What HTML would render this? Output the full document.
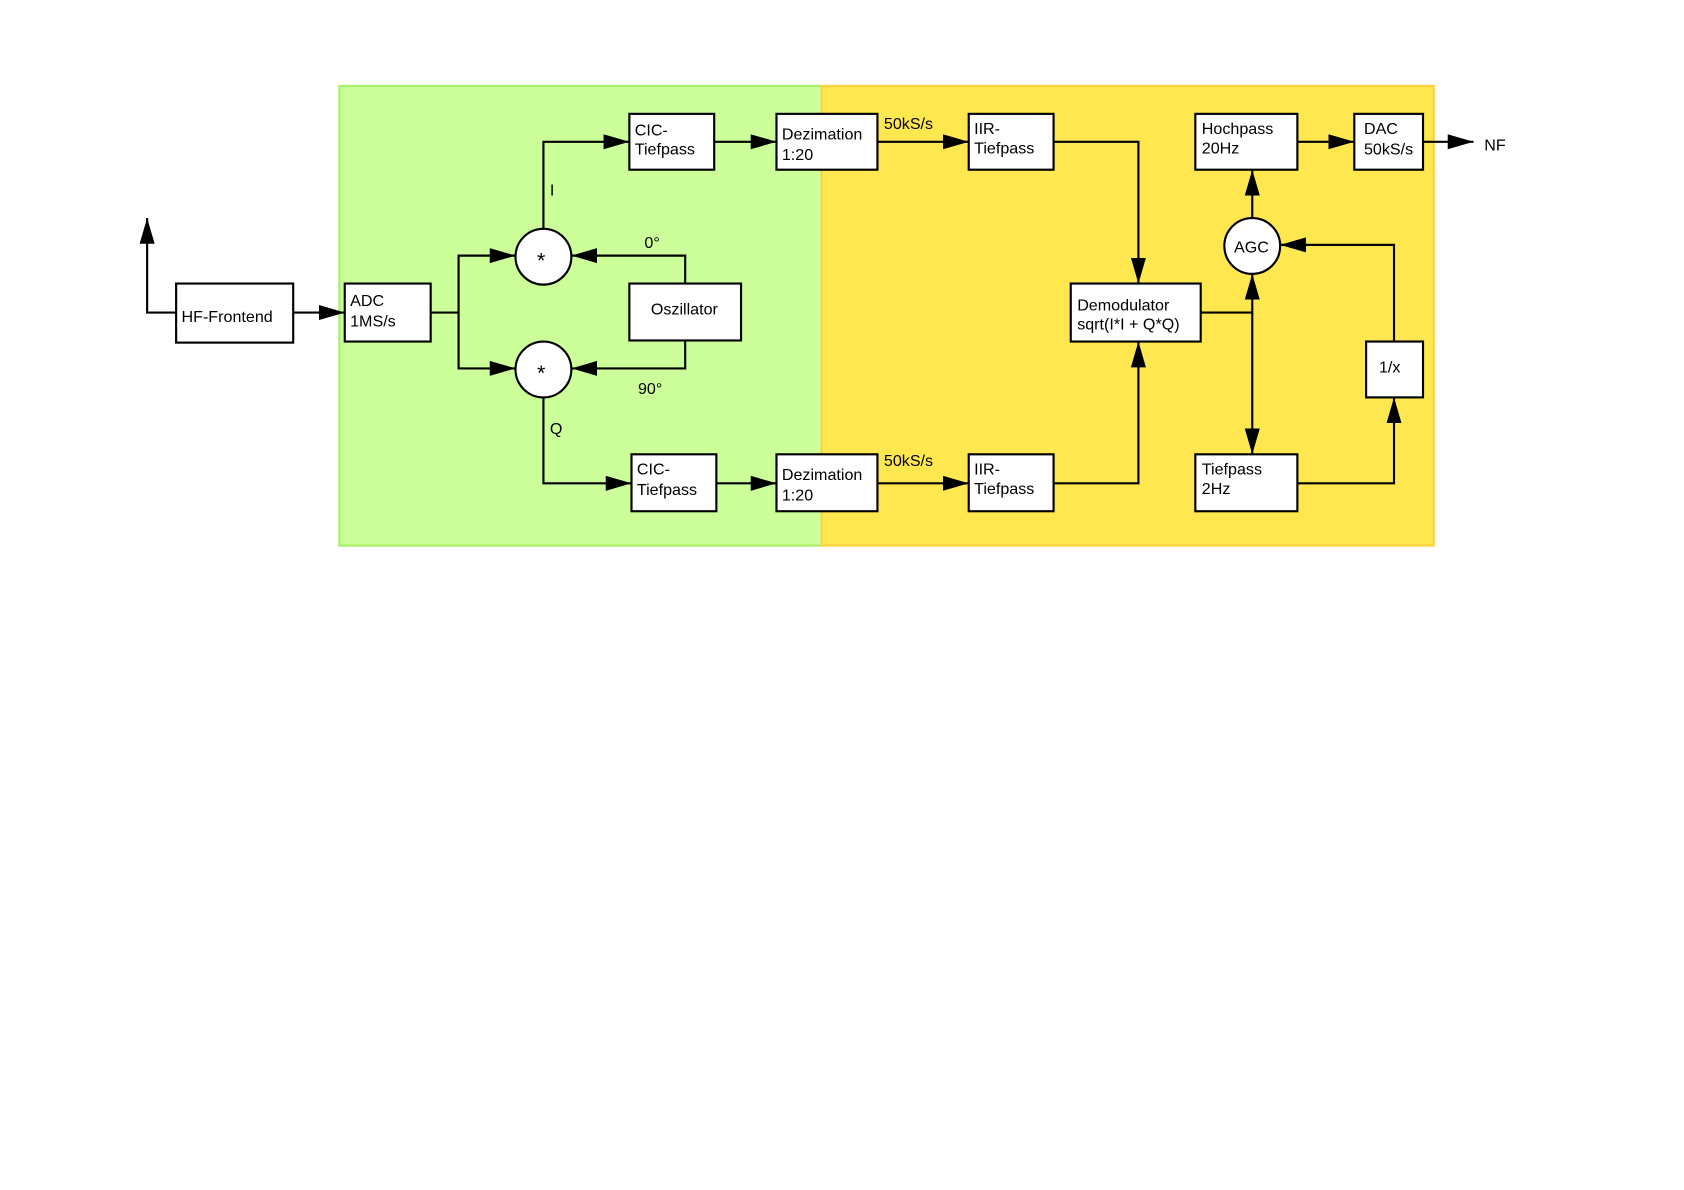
<!DOCTYPE html>
<html><head><meta charset="utf-8"><style>
html,body{margin:0;padding:0;background:#fff;}
svg{display:block;}
text{font-family:"Liberation Sans",Arial,sans-serif;font-size:15px;fill:#000;}
</style></head><body>
<svg width="1684" height="1190" viewBox="0 0 1568 1108" xmlns="http://www.w3.org/2000/svg">
<defs>
<marker id="a" markerWidth="24" markerHeight="14" refX="24" refY="7" orient="auto" markerUnits="userSpaceOnUse">
<path d="M0,0 L24,7 L0,14 Z" fill="#000"/>
</marker>
</defs>
<rect x="316" y="80" width="449" height="428" fill="#ccff99" stroke="#a6f06a" stroke-width="2"/>
<rect x="765" y="80" width="570" height="428" fill="#ffe84f" stroke="#ffd040" stroke-width="2"/>
<g fill="none" stroke="#000" stroke-width="2">
<polyline points="164,291 137,291 137,203" marker-end="url(#a)"/>
<line x1="273" y1="291" x2="321" y2="291" marker-end="url(#a)"/>
<line x1="401" y1="291" x2="427" y2="291"/>
<polyline points="427,291 427,238 480,238" marker-end="url(#a)"/>
<polyline points="427,291 427,343 480,343" marker-end="url(#a)"/>
<polyline points="638,264 638,238 532,238" marker-end="url(#a)"/>
<polyline points="638,317 638,343 532,343" marker-end="url(#a)"/>
<polyline points="506,213 506,132 586,132" marker-end="url(#a)"/>
<polyline points="506,370 506,450 588,450" marker-end="url(#a)"/>
<line x1="665" y1="132" x2="723" y2="132" marker-end="url(#a)"/>
<line x1="667" y1="450" x2="723" y2="450" marker-end="url(#a)"/>
<line x1="817" y1="132" x2="902" y2="132" marker-end="url(#a)"/>
<line x1="817" y1="450" x2="902" y2="450" marker-end="url(#a)"/>
<polyline points="981,132 1060,132 1060,264" marker-end="url(#a)"/>
<polyline points="981,450 1060,450 1060,318" marker-end="url(#a)"/>
<line x1="1118" y1="291" x2="1166" y2="291"/>
<line x1="1166" y1="291" x2="1166" y2="255" marker-end="url(#a)"/>
<line x1="1166" y1="291" x2="1166" y2="423" marker-end="url(#a)"/>
<line x1="1166" y1="203" x2="1166" y2="158" marker-end="url(#a)"/>
<line x1="1208" y1="132" x2="1261" y2="132" marker-end="url(#a)"/>
<line x1="1325" y1="132" x2="1372" y2="132" marker-end="url(#a)"/>
<polyline points="1208,450 1298,450 1298,370" marker-end="url(#a)"/>
<polyline points="1298,318 1298,228 1192,228" marker-end="url(#a)"/>
</g>
<g fill="#fff" stroke="#000" stroke-width="2">
<rect x="164" y="264" width="109" height="55"/>
<rect x="321" y="264" width="80" height="54"/>
<rect x="586" y="264" width="104" height="53"/>
<rect x="586" y="106" width="79" height="52"/>
<rect x="588" y="423" width="79" height="53"/>
<rect x="723" y="106" width="94" height="52"/>
<rect x="723" y="423" width="94" height="53"/>
<rect x="902" y="106" width="79" height="52"/>
<rect x="902" y="423" width="79" height="53"/>
<rect x="997" y="264" width="121" height="54"/>
<rect x="1113" y="106" width="95" height="52"/>
<rect x="1261" y="106" width="64" height="52"/>
<rect x="1113" y="423" width="95" height="53"/>
<rect x="1272" y="318" width="53" height="52"/>
<circle cx="506" cy="239" r="26"/>
<circle cx="506" cy="344" r="26"/>
<circle cx="1166" cy="229" r="26"/>
</g>
<text x="169" y="300">HF-Frontend</text>
<text x="326" y="285">ADC</text><text x="326" y="304">1MS/s</text>
<text x="606" y="293">Oszillator</text>
<text x="500" y="249" style="font-size:20px">*</text>
<text x="500" y="354" style="font-size:20px">*</text>
<text x="512" y="182">I</text>
<text x="512" y="404">Q</text>
<text x="600" y="231">0°</text>
<text x="594" y="367">90°</text>
<text x="591" y="126">CIC-</text><text x="591" y="144">Tiefpass</text>
<text x="593" y="442">CIC-</text><text x="593" y="461">Tiefpass</text>
<text x="728" y="130">Dezimation</text><text x="728" y="149">1:20</text>
<text x="728" y="447">Dezimation</text><text x="728" y="466">1:20</text>
<text x="823" y="120">50kS/s</text>
<text x="823" y="434">50kS/s</text>
<text x="907" y="125">IIR-</text><text x="907" y="143">Tiefpass</text>
<text x="907" y="442">IIR-</text><text x="907" y="460">Tiefpass</text>
<text x="1003" y="289">Demodulator</text><text x="1003" y="307">sqrt(I*I + Q*Q)</text>
<text x="1119" y="125">Hochpass</text><text x="1119" y="143">20Hz</text>
<text x="1270" y="125">DAC</text><text x="1270" y="144">50kS/s</text>
<text x="1119" y="442">Tiefpass</text><text x="1119" y="460">2Hz</text>
<text x="1284" y="347">1/x</text>
<text x="1149" y="235">AGC</text>
<text x="1382" y="140">NF</text>
</svg>
</body></html>
